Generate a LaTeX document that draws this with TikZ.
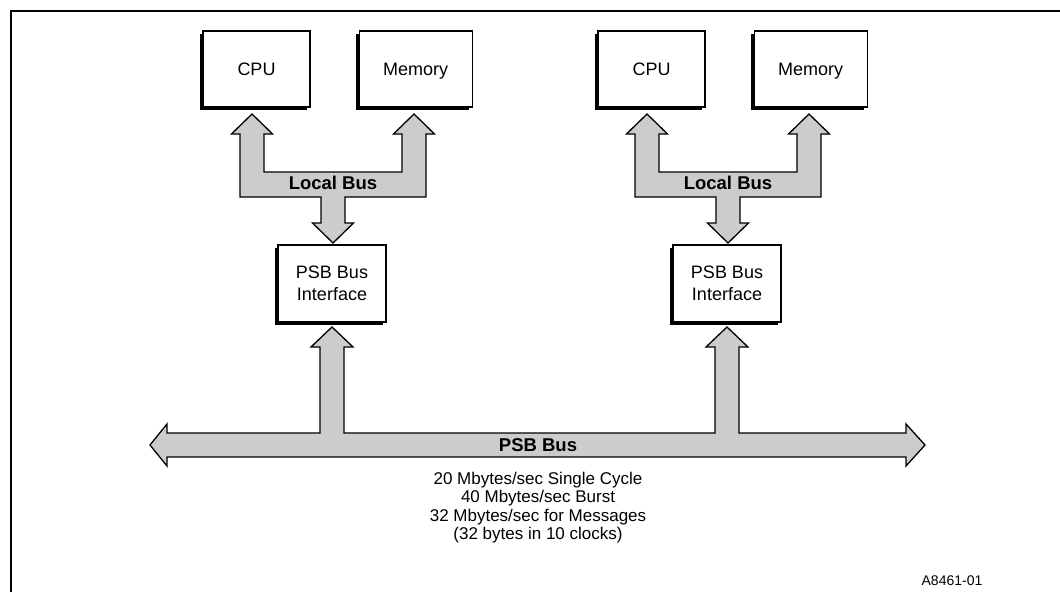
\documentclass[tikz,border=0pt]{standalone}
\usepackage{fontspec}
\setmainfont{Liberation Sans}
\usepackage{tikz}
\usetikzlibrary{positioning}
\usetikzlibrary{shadows}

\begin{document}
\begin{tikzpicture}[x=1pt,y=-1pt,
  box/.style={draw,fill=white,line width=1.2pt,minimum height=76pt,align=center,
    font=\fontsize{18}{22}\selectfont,
    drop shadow={shadow xshift=-3pt,shadow yshift=-3pt,fill=black,opacity=1}},
  unit/.style={box,text height=13pt,text depth=0pt},
  bus/.style={draw,fill=black!20,line width=1.3pt,line join=miter},
  lbl/.style={font=\bfseries\fontsize{18.5}{22}\selectfont}]
\useasboundingbox (0,0) rectangle (1060,592);

%ramka
\draw[line width=2pt] (11,592) -- (11,11) -- (1060,11);

%dwa wezly
\foreach \s/\dx in {l/0,r/395}{
  \begin{scope}[xshift=\dx]
  \node[unit,minimum width=107pt] (cpu\s) at (256.5,69) {CPU};
  \node[unit,minimum width=113pt,right=48pt of cpu\s] (mem\s) {Memory};
  \node[box,minimum width=108pt,minimum height=77pt] (psb\s) at (332,283.5) {PSB Bus\\Interface};

  %szyna lokalna
  \draw[bus] (252,114) -- ++(20.5,20) -- ++(-8.5,0) -- ++(0,38) -- ++(138,0)
    -- ++(0,-38) -- ++(-8.5,0) -- ++(20.5,-20) -- ++(20.5,20) -- ++(-8.5,0)
    -- ++(0,63) -- ++(-81,0) -- ++(0,26) -- ++(8.5,0) -- ++(-20.5,20)
    -- ++(-20.5,-20) -- ++(8.5,0) -- ++(0,-26) -- ++(-81,0) -- ++(0,-63)
    -- ++(-8.5,0) -- cycle;
  \node[lbl] (local\s) at (333,183) {Local Bus};
  \end{scope}
}

%szyna PSB
\draw[bus] (150,445) -- ++(17,-21) -- ++(0,9) -- ++(153,0) -- ++(0,-86)
  -- ++(-9,0) -- ++(21,-20) -- ++(21,20) -- ++(-9,0) -- ++(0,86)
  -- ++(371,0) -- ++(0,-86) -- ++(-9,0) -- ++(21,-20) -- ++(21,20)
  -- ++(-9,0) -- ++(0,86) -- ++(167,0) -- ++(0,-9) -- ++(19,21)
  -- ++(-19,21) -- ++(0,-9) -- ++(-739,0) -- ++(0,9) -- cycle;
\node[lbl] (psbbus) at (538,445) {PSB Bus};

%opis
\node[font=\fontsize{17}{18.5}\selectfont,align=center] (rates) at (538,507.5)
  {20 Mbytes/sec Single Cycle\\40 Mbytes/sec Burst\\32 Mbytes/sec for Messages\\(32 bytes in 10 clocks)};
\node[font=\fontsize{14}{16}\selectfont] (fig) at (952,581) {A8461-01};

%end
\end{tikzpicture}
\end{document}
